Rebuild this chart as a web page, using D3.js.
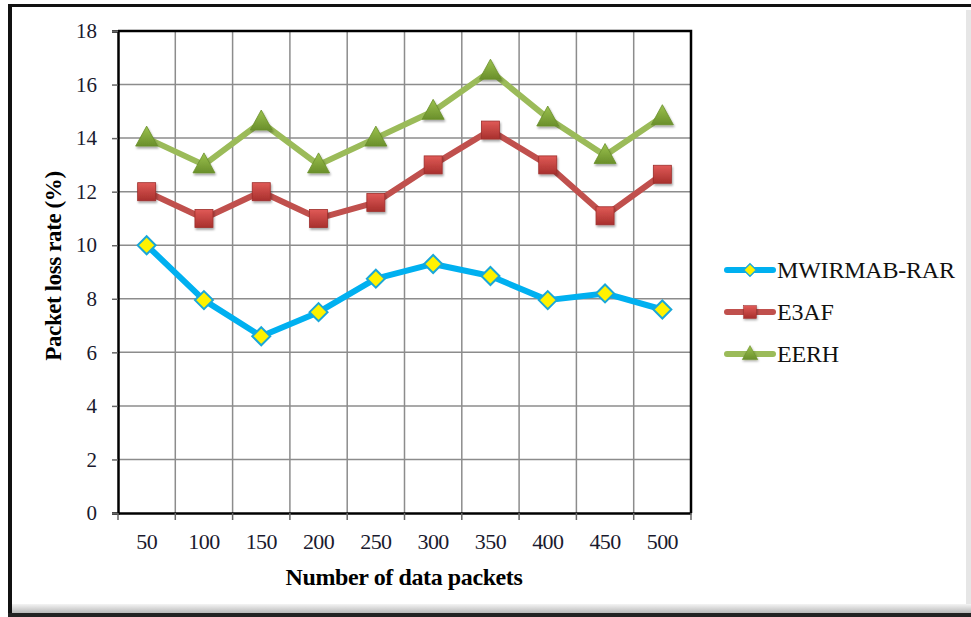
<!DOCTYPE html>
<html lang="en">
<head>
<meta charset="utf-8">
<title>Packet loss rate</title>
<script src="https://cdn.jsdelivr.net/npm/d3@7"></script>
<style>
  body { margin: 0; background: #fff; }
  text { font-family: "Liberation Serif", "Times New Roman", serif; }
</style>
</head>
<body>
<script>
// data
var packets = ["50", "100", "150", "200", "250", "300", "350", "400", "450", "500"];
var mwirmab = [10, 7.95, 6.6, 7.5, 8.75, 9.3, 8.85, 7.95, 8.2, 7.6];
var e3af = [12, 11, 12, 11, 11.6, 13, 14.3, 13, 11.1, 12.65];
var eerh = [14, 13, 14.6, 13, 14, 15, 16.5, 14.75, 13.35, 14.8];
var yTicks = [0, 2, 4, 6, 8, 10, 12, 14, 16, 18];

var series = [
  { name: "MWIRMAB-RAR", values: mwirmab, line: "#00B0F0", marker: "diamond" },
  { name: "E3AF", values: e3af, line: "#C0504D", marker: "square" },
  { name: "EERH", values: eerh, line: "#9BBB59", marker: "triangle" }
];

var W = 971, H = 617;
var m = { left: 118, right: 691, top: 31, bottom: 513 };

var svg = d3.select("body").append("svg").attr("width", W).attr("height", H);

// gradients for markers
var defs = svg.append("defs");
function grad(id, c1, c2) {
  var g = defs.append("linearGradient").attr("id", id)
    .attr("x1", 0).attr("y1", 0).attr("x2", 0).attr("y2", 1);
  g.append("stop").attr("offset", "0%").attr("stop-color", c1);
  g.append("stop").attr("offset", "100%").attr("stop-color", c2);
}
grad("gRed", "#E05A57", "#A8302D");
grad("gGreen", "#9CC24E", "#6A8F2B");
grad("gShadow", "#f4f4f4", "#b8b8b8");
var blur = defs.append("filter").attr("id", "shadow").attr("x", "-50%").attr("y", "-50%").attr("width", "200%").attr("height", "200%");
blur.append("feDropShadow").attr("dx", 1).attr("dy", 2).attr("stdDeviation", 1.2).attr("flood-color", "#000").attr("flood-opacity", 0.35);

// outer frame
svg.append("rect").attr("x", 966).attr("y", 10).attr("width", 5).attr("height", 604).attr("fill", "#e6e6e6");
svg.append("rect").attr("x", 8).attr("y", 604).attr("width", 963).attr("height", 9).attr("fill", "url(#gShadow)");
svg.append("line").attr("x1", 8).attr("x2", 971).attr("y1", 5.5).attr("y2", 5.5).attr("stroke", "#111").attr("stroke-width", 3);
svg.append("line").attr("x1", 10).attr("x2", 10).attr("y1", 4).attr("y2", 617).attr("stroke", "#111").attr("stroke-width", 4);
svg.append("line").attr("x1", 8).attr("x2", 971).attr("y1", 615).attr("y2", 615).attr("stroke", "#222").attr("stroke-width", 4);

var x = d3.scaleBand().domain(packets).range([m.left, m.right]);
var y = d3.scaleLinear().domain([0, 18]).range([m.bottom, m.top]);

// grid
var grid = svg.append("g");
grid.selectAll("line.h").data(yTicks.slice(1)).enter().append("line")
  .attr("x1", m.left).attr("x2", m.right)
  .attr("y1", function(d){ return y(d); }).attr("y2", function(d){ return y(d); })
  .attr("stroke", "#8c8c8c").attr("stroke-width", 1.5);
grid.selectAll("line.v").data(packets.slice(1)).enter().append("line")
  .attr("x1", function(d){ return x(d); }).attr("x2", function(d){ return x(d); })
  .attr("y1", m.top).attr("y2", m.bottom)
  .attr("stroke", "#8c8c8c").attr("stroke-width", 1.5);

// plot frame (top and right)
svg.append("path").attr("d", "M" + m.left + "," + m.top + "H" + m.right + "V" + m.bottom)
  .attr("fill", "none").attr("stroke", "#000").attr("stroke-width", 2.5);

// y axis
var yAxis = svg.append("g").attr("transform", "translate(" + m.left + ",0)")
  .call(d3.axisLeft(y).tickValues(yTicks).tickSize(6).tickPadding(15));
yAxis.select(".domain").attr("stroke", "#000").attr("stroke-width", 2.5);
yAxis.selectAll(".tick line").attr("stroke", "#666").attr("stroke-width", 1.5);
yAxis.selectAll(".tick text").attr("font-size", 21).attr("fill", "#1a1a2e")
  .attr("font-family", "Liberation Serif");

// x axis with ticks at category boundaries
var xAxis = svg.append("g").attr("transform", "translate(0," + m.bottom + ")")
  .call(d3.axisBottom(x).tickSize(0).tickPadding(20));
xAxis.select(".domain").attr("stroke", "#000").attr("stroke-width", 2.5);
xAxis.selectAll(".tick text").attr("font-size", 22).attr("fill", "#1a1a2e")
  .attr("font-family", "Liberation Serif").attr("letter-spacing", -0.6);
xAxis.selectAll("line.b").data(packets.concat(["end"])).enter().append("line")
  .attr("x1", function(d, i){ return m.left + i * x.step(); })
  .attr("x2", function(d, i){ return m.left + i * x.step(); })
  .attr("y1", 0).attr("y2", 7).attr("stroke", "#666").attr("stroke-width", 1.5);

// axis titles
svg.append("text").attr("x", 404).attr("y", 585).attr("text-anchor", "middle")
  .attr("font-size", 24).attr("font-weight", "bold").attr("letter-spacing", -0.4)
  .text("Number of data packets");
svg.append("text").attr("transform", "translate(61,266) rotate(-90)").attr("text-anchor", "middle")
  .attr("font-size", 23).attr("font-weight", "bold").attr("letter-spacing", -0.4)
  .text("Packet loss rate  (%)");

// lines
var line = d3.line()
  .x(function(d, i){ return x(packets[i]) + x.bandwidth() / 2; })
  .y(function(d){ return y(d); });

function marker(sel, kind) {
  if (kind === "diamond") {
    sel.append("path").attr("d", "M0,-9L9,0L0,9L-9,0Z")
      .attr("fill", "#FFF200").attr("stroke", "#1AA7D8").attr("stroke-width", 2);
  } else if (kind === "square") {
    sel.append("rect").attr("x", -9).attr("y", -9).attr("width", 18).attr("height", 18)
      .attr("fill", "url(#gRed)").attr("stroke", "#9E2F2C").attr("stroke-width", 0.8)
      .attr("filter", "url(#shadow)");
  } else {
    sel.append("path").attr("d", "M0,-12L11,8L-11,8Z")
      .attr("fill", "url(#gGreen)").attr("stroke", "#6A8F2B").attr("stroke-width", 0.8)
      .attr("filter", "url(#shadow)");
  }
}

series.slice().reverse().forEach(function(s) {
  var g = svg.append("g");
  g.append("path").datum(s.values).attr("d", line)
    .attr("fill", "none").attr("stroke", s.line).attr("stroke-width", 6)
    .attr("stroke-linejoin", "round").attr("stroke-linecap", "round");
  g.selectAll("g.pt").data(s.values).enter().append("g")
    .attr("transform", function(d, i){
      return "translate(" + (x(packets[i]) + x.bandwidth() / 2) + "," + y(d) + ")";
    })
    .each(function(){ marker(d3.select(this), s.marker); });
});

// legend
var lg = svg.append("g");
series.forEach(function(s, i) {
  var ly = 270 + i * 42;
  lg.append("line").attr("x1", 727).attr("x2", 773).attr("y1", ly).attr("y2", ly)
    .attr("stroke", s.line).attr("stroke-width", 6).attr("stroke-linecap", "round");
  var mg = lg.append("g").attr("transform", "translate(750," + ly + ") scale(0.7)");
  marker(mg, s.marker);
  lg.append("text").attr("x", 777).attr("y", ly + 8).attr("font-size", 24)
    .attr("fill", "#111").attr("letter-spacing", -0.2).text(s.name);
});
</script>
</body>
</html>
